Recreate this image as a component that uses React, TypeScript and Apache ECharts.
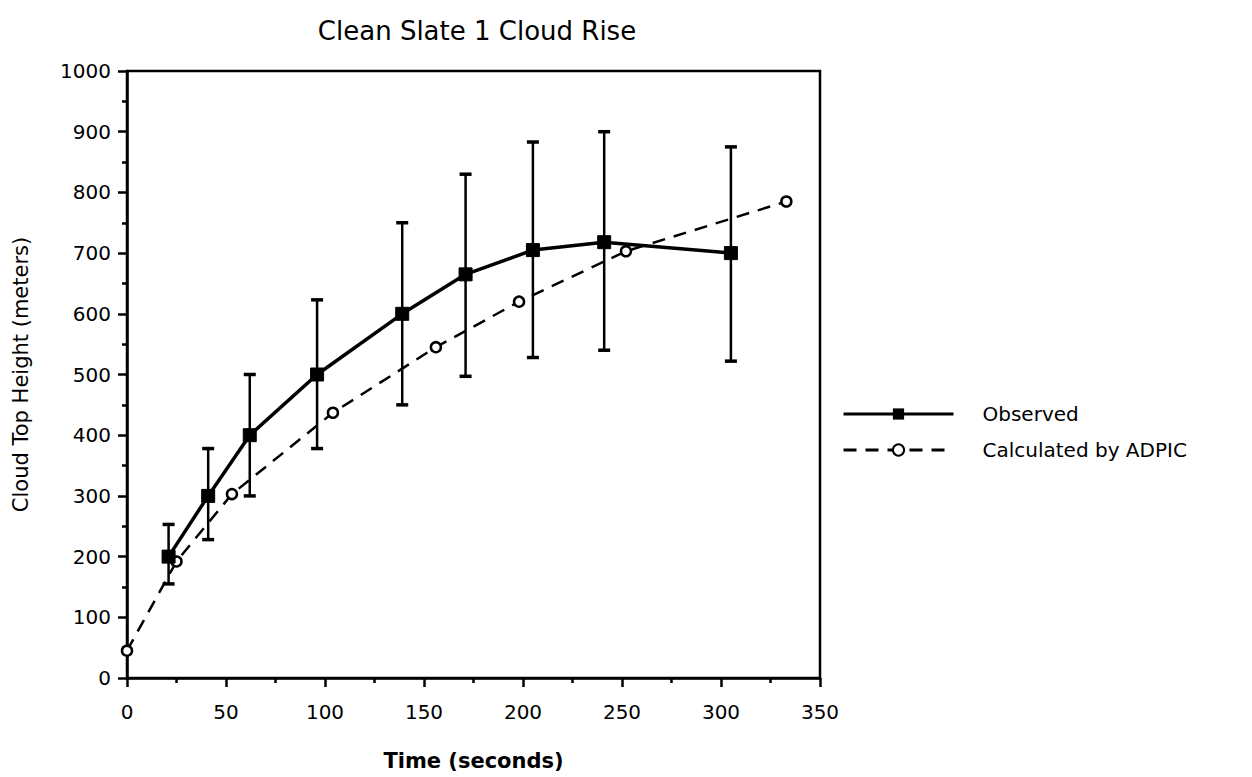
import React, { useEffect, useRef } from "react";
import * as echarts from "echarts";

const obsTime = [21, 41, 62, 96, 139, 171, 205, 241, 305];
const obsHeight = [200, 300, 400, 500, 600, 665, 705, 718, 700];
const obsLow = [155, 228, 300, 378, 450, 497, 528, 540, 522];
const obsHigh = [253, 378, 500, 623, 750, 830, 883, 900, 875];

const calcTime = [0, 25, 53, 104, 156, 198, 252, 333];
const calcHeight = [45, 192, 303, 437, 545, 620, 703, 785];

const FONT = "DejaVu Sans";

export default function App() {
  const ref = useRef<HTMLDivElement>(null);
  useEffect(() => {
    if (!ref.current) return;
    const chart = echarts.init(ref.current, undefined, { renderer: "svg" });
    const errData = obsTime.map((t, i) => [t, obsLow[i], obsHigh[i]]);
    chart.setOption({
      animation: false,
      backgroundColor: "#fff",
      title: {
        text: "Clean Slate 1 Cloud Rise",
        left: 472,
        top: 13,
        textAlign: "center",
        textStyle: { fontFamily: FONT, fontSize: 26, fontWeight: "normal", color: "#000" },
      },
      grid: {
        left: 127,
        right: 432,
        top: 71,
        bottom: 99,
        show: true,
        borderColor: "#000",
        borderWidth: 2.5,
        backgroundColor: "transparent",
      },
      legend: {
        orient: "vertical",
        left: 837,
        top: 399,
        itemWidth: 110,
        itemHeight: 14,
        itemGap: 16,
        lineStyle: { width: 3 },
        textStyle: { fontFamily: FONT, fontSize: 20, color: "#000", padding: [0, 0, 0, 24] },
        data: ["Observed", "Calculated by ADPIC"],
      },
      xAxis: {
        type: "value",
        min: 0,
        max: 350,
        interval: 50,
        name: "Time (seconds)",
        nameLocation: "middle",
        nameGap: 72,
        nameTextStyle: { fontFamily: FONT, fontSize: 21, fontWeight: "bold", color: "#000" },
        axisLine: { show: true, lineStyle: { color: "#000", width: 2.5 } },
        axisTick: { show: true, length: 9, lineStyle: { color: "#000", width: 2.5 } },
        minorTick: { show: true, splitNumber: 2, length: 5, lineStyle: { color: "#000", width: 2.5 } },
        axisLabel: { fontFamily: FONT, fontSize: 20, color: "#000", margin: 24 },
        splitLine: { show: false },
      },
      yAxis: {
        type: "value",
        min: 0,
        max: 1000,
        interval: 100,
        name: "Cloud Top Height (meters)",
        nameLocation: "middle",
        nameGap: 96,
        nameTextStyle: { fontFamily: FONT, fontSize: 21, color: "#000" },
        axisLine: { show: true, lineStyle: { color: "#000", width: 2.5 } },
        axisTick: { show: true, length: 9, lineStyle: { color: "#000", width: 2.5 } },
        minorTick: { show: true, splitNumber: 2, length: 5, lineStyle: { color: "#000", width: 2.5 } },
        axisLabel: { fontFamily: FONT, fontSize: 20, color: "#000", margin: 16, formatter: (v: number) => String(v) },
        splitLine: { show: false },
      },
      series: [
        {
          name: "Error",
          type: "custom",
          data: errData,
          z: 1,
          renderItem: (params: any, api: any) => {
            const x = api.value(0);
            const lo = api.coord([x, api.value(1)]);
            const hi = api.coord([x, api.value(2)]);
            const w = 6;
            const style = { stroke: "#000", lineWidth: 2.5 };
            return {
              type: "group",
              children: [
                { type: "line", shape: { x1: lo[0], y1: lo[1], x2: hi[0], y2: hi[1] }, style },
                { type: "line", shape: { x1: hi[0] - w, y1: hi[1], x2: hi[0] + w, y2: hi[1] }, style: { stroke: "#000", lineWidth: 3.5 } },
                { type: "line", shape: { x1: lo[0] - w, y1: lo[1], x2: lo[0] + w, y2: lo[1] }, style: { stroke: "#000", lineWidth: 3.5 } },
              ],
            };
          },
        },
        {
          name: "Calculated by ADPIC",
          type: "line",
          data: calcTime.map((t, i) => [t, calcHeight[i]]),
          symbol: "circle",
          symbolSize: 10,
          itemStyle: { color: "#fff", borderColor: "#000", borderWidth: 2.5 },
          lineStyle: { color: "#000", width: 2.5, type: [13, 9] },
          z: 2,
        },
        {
          name: "Observed",
          type: "line",
          data: obsTime.map((t, i) => [t, obsHeight[i]]),
          symbol: "rect",
          symbolSize: 13,
          itemStyle: { color: "#000", borderColor: "#000" },
          lineStyle: { color: "#000", width: 3.5 },
          z: 3,
        },
      ],
    });
    return () => chart.dispose();
  }, []);
  return <div ref={ref} style={{ width: 1252, height: 777, position: "absolute", left: 0, top: 0 }} />;
}
